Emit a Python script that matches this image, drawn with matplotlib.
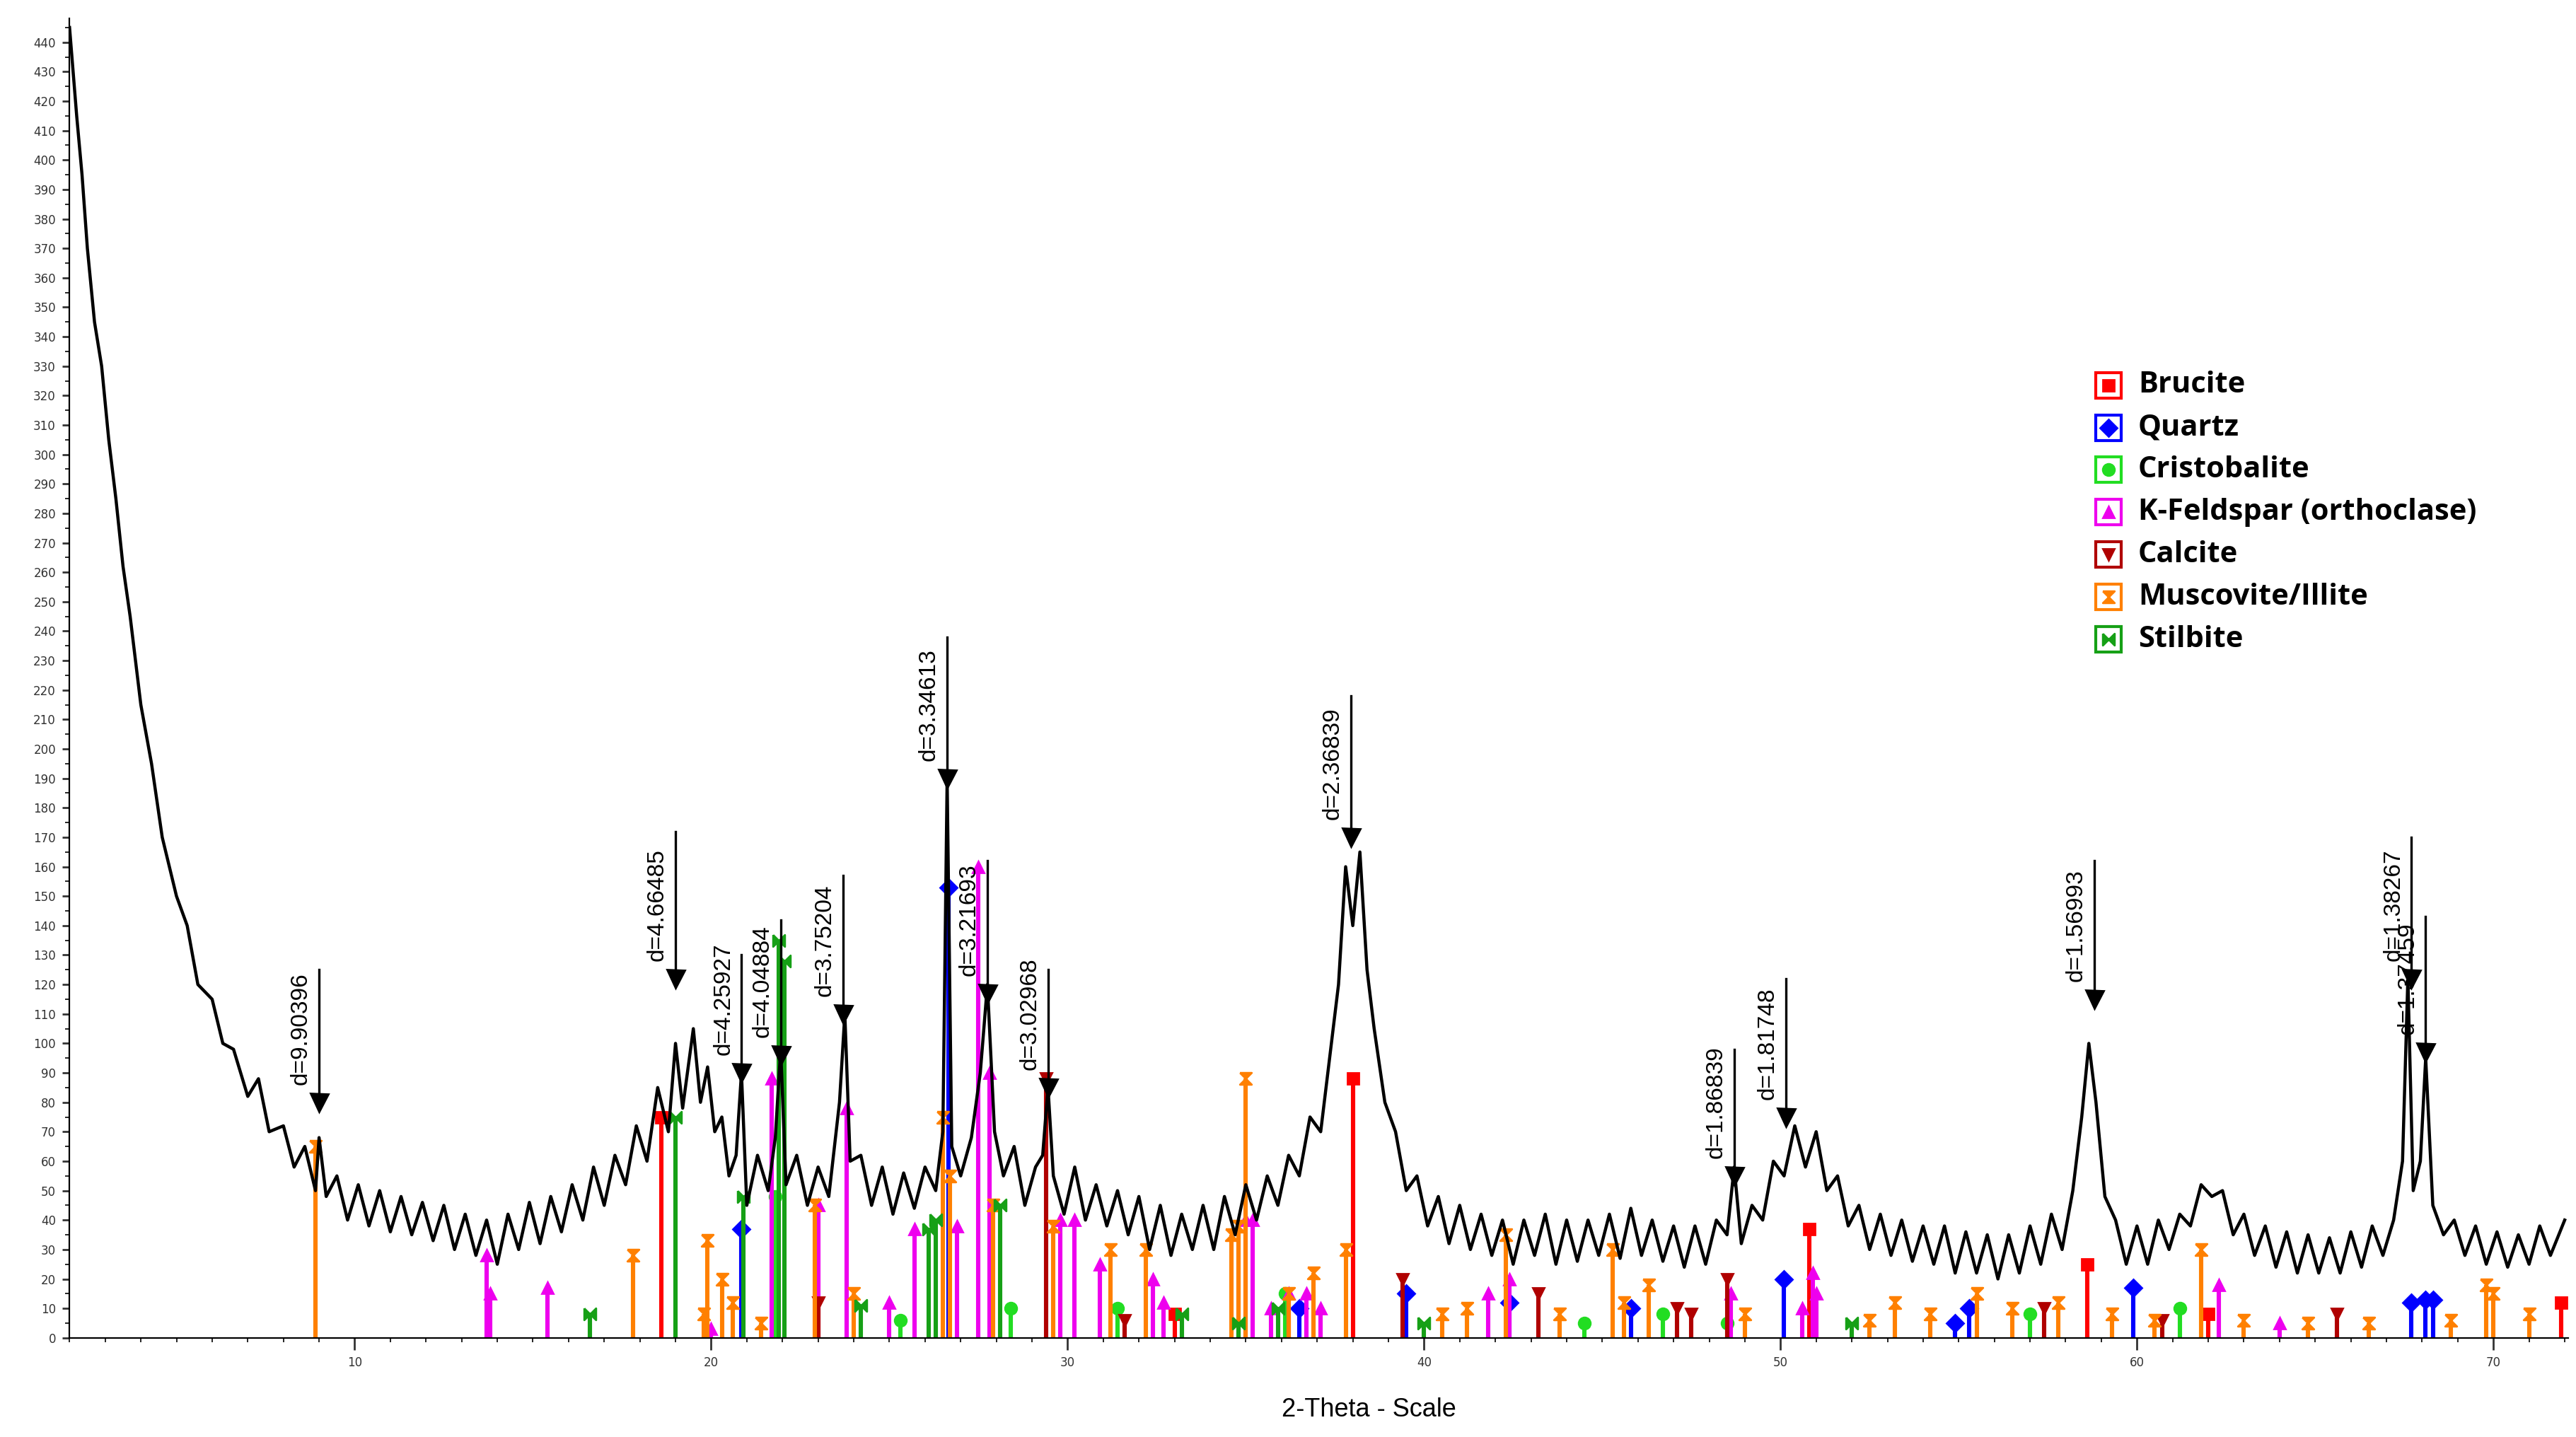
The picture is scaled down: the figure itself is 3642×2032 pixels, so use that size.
import matplotlib
matplotlib.use("Agg")
import matplotlib.pyplot as plt
from matplotlib.ticker import MultipleLocator

trace = [(2.0,445),(2.1,430),(2.2,415),(2.35,395),(2.5,370),(2.7,345),(2.9,330),(3.1,305),(3.3,285),(3.5,262),(3.7,245),(4.0,215),(4.3,195),(4.6,170),(5.0,150),(5.3,140),(5.6,120),(6.0,115),(6.3,100),(6.6,98),(7.0,82),(7.3,88),(7.6,70),(8.0,72),(8.3,58),(8.6,65),(8.9,50),(9.0,68),(9.2,48),(9.5,55),(9.8,40),(10.1,52),(10.4,38),(10.7,50),(11.0,36),(11.3,48),(11.6,35),(11.9,46),(12.2,33),(12.5,45),(12.8,30),(13.1,42),(13.4,28),(13.7,40),(14.0,25),(14.3,42),(14.6,30),(14.9,46),(15.2,32),(15.5,48),(15.8,36),(16.1,52),(16.4,40),(16.7,58),(17.0,45),(17.3,62),(17.6,52),(17.9,72),(18.2,60),(18.5,85),(18.8,70),(19.0,100),(19.2,78),(19.5,105),(19.7,80),(19.9,92),(20.1,70),(20.3,75),(20.5,55),(20.7,62),(20.85,90),(21.0,45),(21.3,62),(21.6,50),(21.8,68),(21.95,98),(22.1,52),(22.4,62),(22.7,45),(23.0,58),(23.3,48),(23.6,80),(23.75,110),(23.9,60),(24.2,62),(24.5,45),(24.8,58),(25.1,42),(25.4,56),(25.7,44),(26.0,58),(26.3,50),(26.5,70),(26.62,190),(26.75,65),(27.0,55),(27.3,68),(27.55,90),(27.75,120),(27.95,70),(28.2,55),(28.5,65),(28.8,45),(29.1,58),(29.3,62),(29.45,85),(29.6,55),(29.9,42),(30.2,58),(30.5,40),(30.8,52),(31.1,38),(31.4,50),(31.7,35),(32.0,48),(32.3,30),(32.6,45),(32.9,28),(33.2,42),(33.5,30),(33.8,45),(34.1,30),(34.4,48),(34.7,35),(35.0,52),(35.3,40),(35.6,55),(35.9,45),(36.2,62),(36.5,55),(36.8,75),(37.1,70),(37.4,100),(37.6,120),(37.8,160),(38.0,140),(38.2,165),(38.4,125),(38.6,105),(38.9,80),(39.2,70),(39.5,50),(39.8,55),(40.1,38),(40.4,48),(40.7,32),(41.0,45),(41.3,30),(41.6,42),(41.9,28),(42.2,40),(42.5,25),(42.8,40),(43.1,28),(43.4,42),(43.7,25),(44.0,40),(44.3,26),(44.6,40),(44.9,28),(45.2,42),(45.5,27),(45.8,44),(46.1,28),(46.4,40),(46.7,26),(47.0,38),(47.3,24),(47.6,38),(47.9,25),(48.2,40),(48.5,35),(48.7,58),(48.9,32),(49.2,45),(49.5,40),(49.8,60),(50.1,55),(50.4,72),(50.7,58),(51.0,70),(51.3,50),(51.6,55),(51.9,38),(52.2,45),(52.5,30),(52.8,42),(53.1,28),(53.4,40),(53.7,26),(54.0,38),(54.3,25),(54.6,38),(54.9,22),(55.2,36),(55.5,22),(55.8,35),(56.1,20),(56.4,35),(56.7,22),(57.0,38),(57.3,25),(57.6,42),(57.9,30),(58.2,50),(58.45,75),(58.65,100),(58.85,80),(59.1,48),(59.4,40),(59.7,25),(60.0,38),(60.3,25),(60.6,40),(60.9,30),(61.2,42),(61.5,38),(61.8,52),(62.1,48),(62.4,50),(62.7,35),(63.0,42),(63.3,28),(63.6,38),(63.9,24),(64.2,36),(64.5,22),(64.8,35),(65.1,22),(65.4,34),(65.7,22),(66.0,36),(66.3,24),(66.6,38),(66.9,28),(67.2,40),(67.45,60),(67.6,122),(67.75,50),(67.95,60),(68.1,95),(68.3,45),(68.6,35),(68.9,40),(69.2,28),(69.5,38),(69.8,25),(70.1,36),(70.4,24),(70.7,35),(71.0,25),(71.3,38),(71.6,28),(72.0,40)]
trace_x = [p[0] for p in trace]
trace_y = [p[1] for p in trace]

brucite = [(18.6,75),(33.0,8),(38.0,88),(50.8,37),(58.6,25),(62.0,8),(71.9,12)]
quartz = [(20.85,37),(26.65,153),(36.5,10),(39.5,15),(42.4,12),(45.8,10),(50.1,20),(54.9,5),(55.3,10),(59.9,17),(67.7,12),(68.1,13),(68.3,13)]
cristobalite = [(21.8,48),(25.3,6),(28.4,10),(31.4,10),(36.1,15),(44.5,5),(46.7,8),(48.5,5),(57.0,8),(61.2,10)]
feldspar = [(13.7,28),(13.8,15),(15.4,17),(20.0,3),(21.7,88),(23.0,45),(23.8,78),(25.0,12),(25.7,37),(26.9,38),(27.5,160),(27.8,90),(29.8,40),(30.2,40),(30.9,25),(32.4,20),(32.7,12),(35.0,40),(35.2,40),(35.7,10),(36.2,15),(36.7,15),(37.1,10),(41.8,15),(42.4,20),(48.6,15),(50.6,10),(50.9,22),(51.0,15),(62.3,18),(64.0,5)]
calcite = [(23.0,12),(29.4,88),(31.6,6),(39.4,20),(43.2,15),(47.1,10),(47.5,8),(48.5,20),(57.4,10),(60.7,6),(65.6,8)]
muscovite = [(8.9,65),(17.8,28),(19.8,8),(19.9,33),(20.3,20),(20.6,12),(21.4,5),(22.9,45),(24.0,15),(26.5,75),(26.7,55),(27.9,45),(29.6,38),(31.2,30),(32.2,30),(34.6,35),(34.8,38),(35.0,88),(36.2,15),(36.9,22),(37.8,30),(40.5,8),(41.2,10),(42.3,35),(43.8,8),(45.3,30),(45.6,12),(46.3,18),(49.0,8),(52.5,6),(53.2,12),(54.2,8),(55.5,15),(56.5,10),(57.8,12),(59.3,8),(60.5,6),(61.8,30),(63.0,6),(64.8,5),(66.5,5),(68.8,6),(69.8,18),(70.0,15),(71.0,8)]
stilbite = [(16.6,8),(19.0,75),(20.9,48),(21.9,135),(22.05,128),(24.2,11),(26.1,37),(26.3,40),(28.1,45),(33.2,8),(34.8,5),(35.9,10),(40.0,5),(52.0,5)]

annot_x = [9.0,19.0,20.85,21.95,23.7,26.62,27.75,29.45,37.95,48.7,50.15,58.8,67.7,68.1]
annot_arrow_y = [80,122,90,96,110,190,117,85,170,55,75,115,122,97]
annot_top_y = [125,172,130,142,157,238,162,125,218,98,122,162,170,143]
annot_text = ["d=9.90396","d=4.66485","d=4.25927","d=4.04884","d=3.75204","d=3.34613","d=3.21693",
              "d=3.02968","d=2.36839","d=1.86839","d=1.81748","d=1.56993","d=1.38267","d=1.37459"]

phase_names = ["Brucite","Quartz","Cristobalite","K-Feldspar (orthoclase)","Calcite","Muscovite/Illite","Stilbite"]
hourglass = [(-1,1),(1,1),(-1,-1),(1,-1),(-1,1)]
bowtie = [(-1,1),(-1,-1),(1,1),(1,-1),(-1,1)]
phase_styles = [("#ff0000","s"),("#0000ff","D"),("#22dd22","o"),("#ee00ee","^"),("#b00000","v"),("#ff8000",hourglass),("#16a016",bowtie)]
phase_data = [brucite,quartz,cristobalite,feldspar,calcite,muscovite,stilbite]

fig = plt.figure(figsize=(18.21,10.16), dpi=200)
ax = fig.add_axes([0.027,0.069,0.97,0.918])
ax.plot(trace_x, trace_y, color="black", lw=1.6, zorder=3)

for data,(c,m) in zip(phase_data, phase_styles):
    xs = [d[0] for d in data]; ys = [d[1] for d in data]
    ax.vlines(xs, 0, ys, color=c, lw=2.2, zorder=2)
    ax.plot(xs, ys, ls="none", marker=m, color=c, ms=6, zorder=2)

for x, ya, yt, t in zip(annot_x, annot_arrow_y, annot_top_y, annot_text):
    ax.plot([x,x],[ya,yt], color="black", lw=1.2, zorder=4)
    ax.plot([x],[ya], marker="v", color="black", ms=9, zorder=4)
    ax.text(x-0.2, ya+6, t, rotation=90, ha="right", va="bottom", fontsize=12, family="Liberation Sans", zorder=4)

ax.set_xlim(2,72.1)
ax.set_ylim(0,448)
ax.spines["top"].set_visible(False); ax.spines["right"].set_visible(False)
ax.xaxis.set_major_locator(MultipleLocator(10))
ax.xaxis.set_minor_locator(MultipleLocator(1))
ax.yaxis.set_major_locator(MultipleLocator(10))
ax.yaxis.set_minor_locator(MultipleLocator(5))
ax.tick_params(axis="both", labelsize=6, colors="#333333", width=1)
ax.tick_params(axis="x", which="major", length=6)
ax.set_xlabel("2-Theta - Scale", fontsize=13, family="Liberation Sans")
ax.xaxis.set_label_coords(0.52,-0.045)

for i,(name,(c,m)) in enumerate(zip(phase_names, phase_styles)):
    y = 0.732 - i*0.0295
    fig.lines.append(plt.Line2D([0.8185],[y], transform=fig.transFigure, marker="s", ms=13, mfc="white", mec=c, mew=1.5, ls="none"))
    fig.lines.append(plt.Line2D([0.8185],[y], transform=fig.transFigure, marker=m, ms=6, color=c, ls="none"))
    fig.text(0.830, y, name, fontsize=15, fontweight="bold", family="Open Sans", va="center")

fig.savefig("out.png", dpi=200)
